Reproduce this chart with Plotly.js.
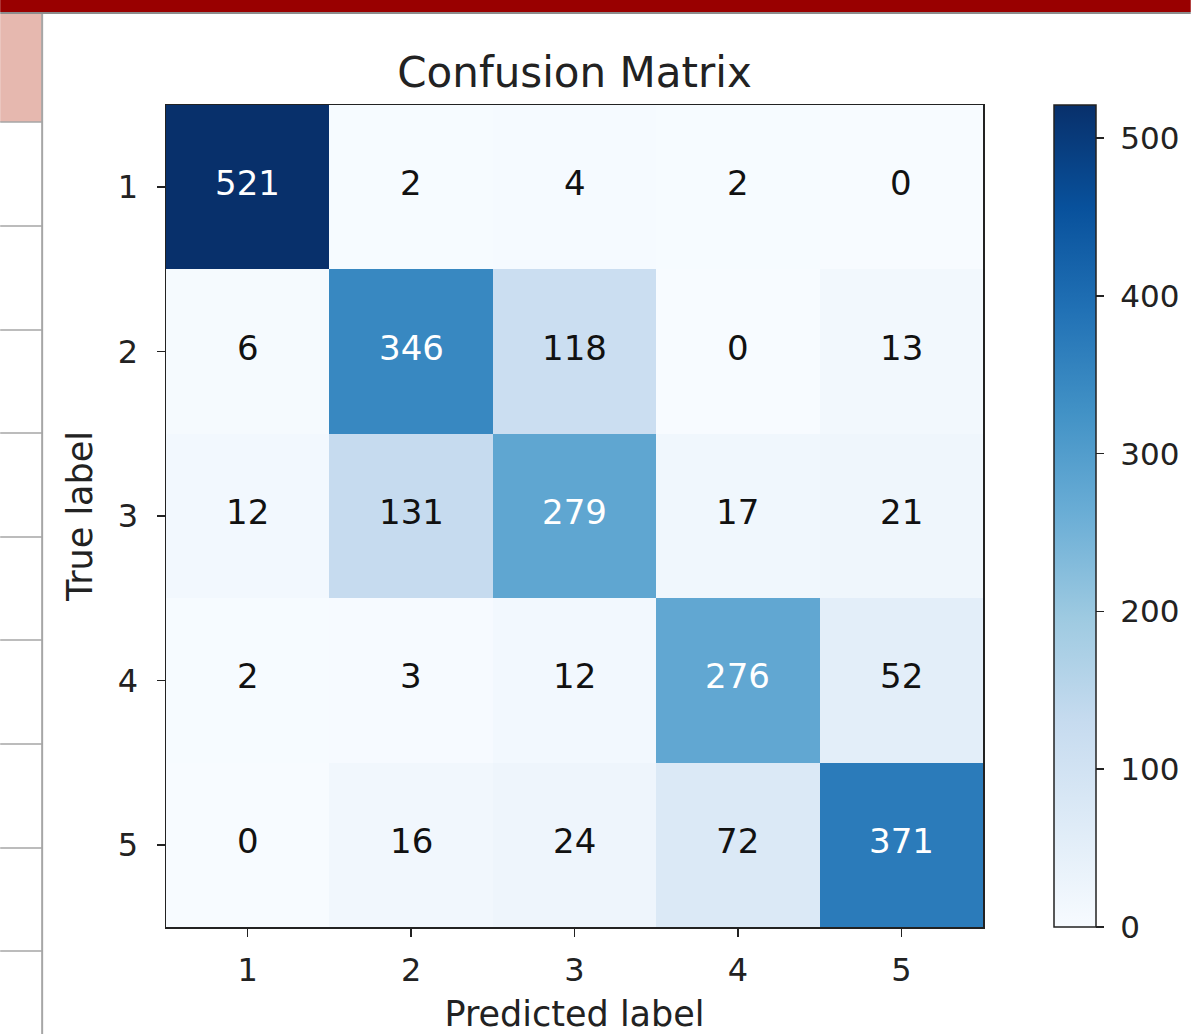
<!DOCTYPE html>
<html>
<head>
<meta charset="utf-8">
<script src="https://cdn.plot.ly/plotly-3.0.1.min.js"></script>
<style>html,body{margin:0;padding:0;background:#fff;}#chart{width:1192px;height:1034px;}</style>
</head>
<body>
<div id="chart"></div>
<script>
// ---- data ----
const predictedLabels = [1, 2, 3, 4, 5];
const trueLabels = [1, 2, 3, 4, 5];
const row1 = [521, 2, 4, 2, 0];
const row2 = [6, 346, 118, 0, 13];
const row3 = [12, 131, 279, 17, 21];
const row4 = [2, 3, 12, 276, 52];
const row5 = [0, 16, 24, 72, 371];
const colorbarTicks = [0, 100, 200, 300, 400, 500];

const z = [row1, row2, row3, row4, row5];

// ---- layout geometry (pixels) ----
const W = 1192, H = 1034;
const mL = 166, mR = W - 984, mT = 105, mB = H - 927;
const pw = W - mL - mR, ph = H - mT - mB;
const px = x => (x - mL) / pw;
const py = y => (H - mB - y) / ph;

const blues = [
  [0.0, '#f7fbff'], [0.125, '#deebf7'], [0.25, '#c6dbef'], [0.375, '#9ecae1'],
  [0.5, '#6baed6'], [0.625, '#4292c6'], [0.75, '#2171b5'], [0.875, '#08519c'], [1.0, '#08306b']
];

let zmax = 0;
z.forEach(r => r.forEach(v => { if (v > zmax) zmax = v; }));
const thresh = zmax / 2;

const annotations = [];
z.forEach((r, i) => r.forEach((v, j) => {
  annotations.push({
    x: predictedLabels[j], y: trueLabels[i], xref: 'x', yref: 'y',
    text: String(v), showarrow: false, yshift: 4,
    font: { family: 'DejaVu Sans', size: 34, color: v > thresh ? '#ffffff' : '#111111' }
  });
}));

// slide decorations (left table column and top bar)
const gray = '#a6a6a6';
const shapes = [
  { type: 'rect', xref: 'paper', yref: 'paper', x0: px(0), x1: px(W), y0: py(0), y1: py(12), fillcolor: '#990000', line: { width: 0 } },
  { type: 'line', xref: 'paper', yref: 'paper', x0: px(0), x1: px(W), y0: py(13), y1: py(13), line: { color: '#8c8c8c', width: 2 } },
  { type: 'rect', xref: 'paper', yref: 'paper', x0: px(0), x1: px(42), y0: py(14), y1: py(122), fillcolor: '#e6b8af', line: { width: 0 } },
  { type: 'line', xref: 'paper', yref: 'paper', x0: px(42), x1: px(42), y0: py(14), y1: py(H), line: { color: gray, width: 2 } }
];
[122, 226, 330, 433, 537, 640, 744, 848, 951].forEach(yy => {
  shapes.push({ type: 'line', xref: 'paper', yref: 'paper', x0: px(0), x1: px(42), y0: py(yy), y1: py(yy), line: { color: gray, width: 1.5 } });
});

const trace = {
  type: 'heatmap',
  x: predictedLabels, y: trueLabels, z: z,
  zmin: 0, zmax: zmax,
  colorscale: blues,
  showscale: true,
  hoverinfo: 'skip',
  colorbar: {
    x: px(1054), xref: 'paper', xanchor: 'left',
    y: 0, yanchor: 'bottom', len: 1, lenmode: 'fraction',
    thickness: 42, thicknessmode: 'pixels',
    outlinecolor: '#222', outlinewidth: 1.5,
    tickvals: colorbarTicks, ticktext: colorbarTicks.map(v => '\u00a0' + v),
    ticks: 'outside', ticklen: 8, tickwidth: 1.5, tickcolor: '#222',
    tickfont: { family: 'DejaVu Sans', size: 31, color: '#222' },
    xpad: 0, ypad: 0
  }
};

const axisCommon = {
  type: 'linear',
  range: [0.5, 5.5],
  tickvals: predictedLabels, ticktext: predictedLabels.map(String),
  showline: true, linecolor: '#222', linewidth: 1.5, mirror: true,
  ticks: 'outside', ticklen: 8, tickwidth: 1.5, tickcolor: '#222',
  tickfont: { family: 'DejaVu Sans', size: 32, color: '#222' },
  showgrid: false, zeroline: false
};

const layout = {
  width: W, height: H,
  margin: { l: mL, r: mR, t: mT, b: mB, pad: 0 },
  paper_bgcolor: '#ffffff', plot_bgcolor: '#ffffff',
  title: {
    text: 'Confusion Matrix',
    font: { family: 'DejaVu Sans', size: 42, color: '#222' },
    x: 0.5, xref: 'paper', xanchor: 'center',
    y: 1 - 72 / H, yref: 'container', yanchor: 'middle'
  },
  xaxis: Object.assign({}, axisCommon, {
    ticklabelstandoff: 6,
    title: { text: 'Predicted label', standoff: 16, font: { family: 'DejaVu Sans', size: 35, color: '#222' } }
  }),
  yaxis: Object.assign({}, axisCommon, {
    range: [5.5, 0.5],
    ticklabelstandoff: 12,
    title: { text: 'True label', standoff: 14, font: { family: 'DejaVu Sans', size: 35, color: '#222' } }
  }),
  annotations: annotations,
  shapes: shapes,
  showlegend: false
};

Plotly.newPlot('chart', [trace], layout, { displayModeBar: false, staticPlot: true });
</script>
</body>
</html>
